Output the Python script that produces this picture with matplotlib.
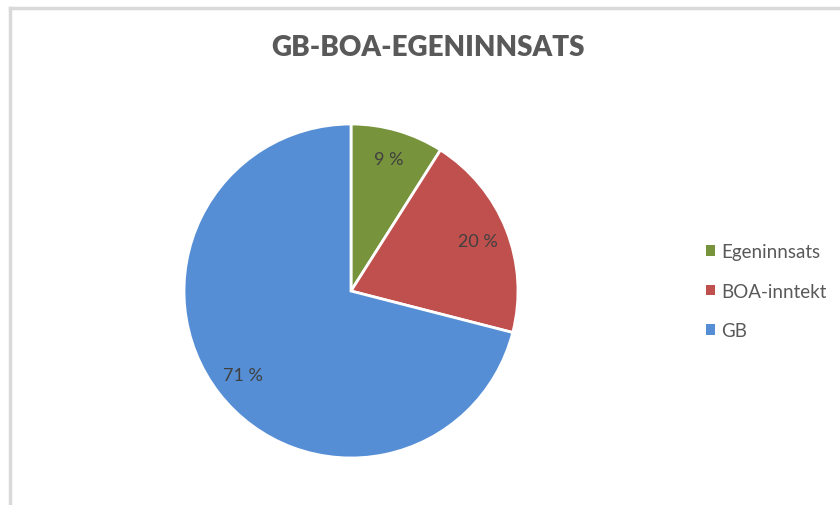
import matplotlib
matplotlib.use("Agg")
import matplotlib.pyplot as plt
from matplotlib.patches import Rectangle
from matplotlib.lines import Line2D

plt.rcParams['font.family'] = ['Lato', 'DejaVu Sans']

title = "GB-BOA-EGENINNSATS"
categories = ["Egeninnsats", "BOA-inntekt", "GB"]
values = [9, 20, 71]
colors = ["#77933C", "#C0504D", "#558ED5"]

W, H = 840, 506
fig = plt.figure(figsize=(W / 100, H / 100), dpi=100)

# outer frame (light gray border)
fig.add_artist(Line2D([9.5 / W, 9.5 / W], [0, 1 - 8.5 / H], color="#d9d9d9", lw=2.5))
fig.add_artist(Line2D([9.5 / W, 1], [1 - 8.5 / H, 1 - 8.5 / H], color="#d9d9d9", lw=2.5))

cx, cy, r = 351, 292, 167
ax = fig.add_axes([(cx - r) / W, (H - cy - r) / H, 2 * r / W, 2 * r / H])
wedges, texts, autotexts = ax.pie(
    values, colors=colors, startangle=90, counterclock=False,
    radius=1.0, autopct=lambda p: f"{p:.0f} %", pctdistance=0.82,
    wedgeprops=dict(edgecolor="white", linewidth=2),
    textprops=dict(color="#404040", fontsize=13),
)
ax.set_xlim(-1, 1)
ax.set_ylim(-1, 1)
ax.set_aspect("equal")
ax.axis("off")

fig.text(428 / W, 1 - 48 / H, title, ha="center", va="center",
         fontsize=20, fontweight="heavy", color="#595959")

handles = [Rectangle((0, 0), 1, 1, facecolor=c, edgecolor="none") for c in colors]
leg = fig.legend(handles, categories, loc="center left",
                 bbox_to_anchor=(689 / W, 1 - 292 / H), frameon=False,
                 fontsize=13.5, handlelength=0.5, handleheight=0.5,
                 handletextpad=0.3, labelspacing=1.2, labelcolor="#595959")

fig.savefig("out.png", dpi=100, facecolor="white")
